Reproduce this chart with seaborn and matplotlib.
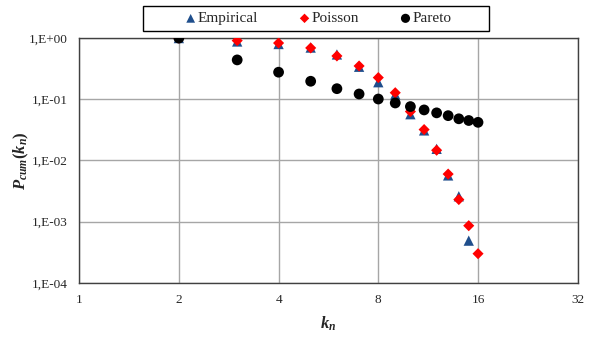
import numpy as np
import pandas as pd
import matplotlib
matplotlib.use("Agg")
import matplotlib.pyplot as plt
from matplotlib.patches import Rectangle
import seaborn as sns

# values
k_emp = [2, 3, 4, 5, 6, 7, 8, 9, 10, 11, 12, 13, 14, 15]
p_emp = [1.0, 0.88, 0.80, 0.70, 0.54, 0.34, 0.19, 0.12, 0.057, 0.031, 0.0155, 0.0057, 0.0026, 0.00049]

k_poi = [2, 3, 4, 5, 6, 7, 8, 9, 10, 11, 12, 13, 14, 15, 16]
p_poi = [1.0, 0.91, 0.83, 0.69, 0.51, 0.35, 0.226, 0.128, 0.063, 0.032, 0.0147, 0.006, 0.0023, 0.00086, 0.0003]

k_par = [2, 3, 4, 5, 6, 7, 8, 9, 10, 11, 12, 13, 14, 15, 16]
p_par = [1.0, 0.44, 0.277, 0.197, 0.149, 0.122, 0.101, 0.087, 0.076, 0.067, 0.060, 0.054, 0.048, 0.045, 0.042]

x_ticks = [1, 2, 4, 8, 16, 32]
y_ticks = [1e-4, 1e-3, 1e-2, 1e-1, 1e0]
y_labels = ["1,E-04", "1,E-03", "1,E-02", "1,E-01", "1,E+00"]

sns.set_style("white")
plt.rcParams['font.family'] = ['Liberation Serif', 'DejaVu Serif']
plt.rcParams['mathtext.fontset'] = 'custom'
plt.rcParams['mathtext.it'] = 'Liberation Serif:italic:bold'
plt.rcParams['mathtext.rm'] = 'Liberation Serif:bold'
plt.rcParams['mathtext.bf'] = 'Liberation Serif:bold'

fig = plt.figure(figsize=(5.95, 3.40), dpi=100)
ax = fig.add_axes([0.133, 0.168, 0.838, 0.720])

emp = pd.DataFrame({"k": k_emp, "p": p_emp})
poi = pd.DataFrame({"k": k_poi, "p": p_poi})
par = pd.DataFrame({"k": k_par, "p": p_par})

sns.scatterplot(data=emp, x="k", y="p", ax=ax, marker="^", s=55, color="#1f4e8c",
                edgecolor="none", label="Empirical", zorder=3)
sns.scatterplot(data=poi, x="k", y="p", ax=ax, marker="D", s=32, color="#ff0000",
                edgecolor="none", label="Poisson", zorder=4)
sns.scatterplot(data=par, x="k", y="p", ax=ax, marker="o", s=60, color="black",
                edgecolor="none", label="Pareto", zorder=5)

ax.set_xscale("log", base=2)
ax.set_yscale("log")
ax.set_xlim(1, 32)
ax.set_ylim(1e-4, 1)
ax.set_xticks(x_ticks)
ax.set_xticklabels([str(t) for t in x_ticks])
ax.set_yticks(y_ticks)
ax.set_yticklabels(y_labels)
ax.minorticks_off()
ax.tick_params(length=0, labelsize=9.5, pad=8)
ax.grid(True, color="#a6a6a6", linewidth=1)
for s in ax.spines.values():
    s.set_color("#404040")
    s.set_linewidth(1)

ax.set_xlabel("$k_n$", fontsize=12, labelpad=6)
ax.set_ylabel("$P_{cum}(k_n)$", fontsize=12, labelpad=-1)

# legend entries without frame, box drawn separately for the wide padding
ax.legend(loc="center", bbox_to_anchor=(0.479, 1.08), ncol=3, frameon=False,
          fontsize=11, handletextpad=0.05, handlelength=0.8, columnspacing=2.65,
          markerscale=0.85, borderaxespad=0, borderpad=0)
fig.patches.append(Rectangle((143 / 595, 1 - 31 / 340), 346 / 595, 25 / 340,
                             transform=fig.transFigure, fill=False,
                             edgecolor="black", linewidth=1))

fig.savefig("out.png", dpi=100)
